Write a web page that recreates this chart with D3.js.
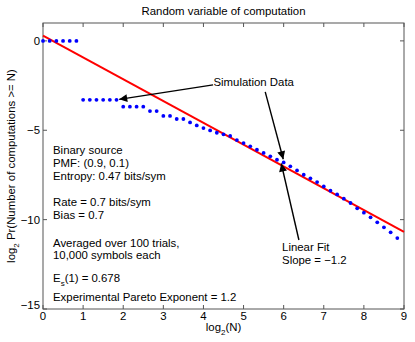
<!DOCTYPE html>
<html>
<head>
<meta charset="utf-8">
<script src="https://cdn.jsdelivr.net/npm/d3@7"></script>
<style>
  body { margin: 0; background: #fff; }
  text { font-family: "Liberation Sans", Arial, sans-serif; font-size: 11.4px; fill: #000; }
</style>
</head>
<body>
<svg id="chart"></svg>
<script>
// simulation data: x = log2(N) on a 1/6 grid, y = log2 Pr(computations >= N)
const simX = d3.range(54).map(k => k / 6);
const simY = [
  0, 0, 0, 0, 0, 0,
  -3.3, -3.3, -3.3, -3.3, -3.3, -3.3,
  -3.68, -3.68, -3.68, -3.68, -3.93, -3.93,
  -4.2, -4.2, -4.37, -4.37, -4.56, -4.73,
  -4.88, -5.01, -5.14, -5.23, -5.32, -5.55,
  -5.72, -5.9, -6.09, -6.27, -6.46, -6.65,
  -6.8, -7.02, -7.25, -7.49, -7.69, -7.9,
  -8.14, -8.38, -8.59, -8.83, -9.07, -9.37,
  -9.61, -9.87, -10.15, -10.43, -10.71, -11.03
];

// linear fit end points
const fitX = [0, 9];
const fitY = [0.3, -10.69];

const xTicks = [0, 1, 2, 3, 4, 5, 6, 7, 8, 9];
const yTicks = [0, -5, -10, -15];

const infoLines = [
  "Binary source",
  "PMF: (0.9, 0.1)",
  "Entropy: 0.47 bits/sym",
  "Rate = 0.7 bits/sym",
  "Bias = 0.7",
  "Averaged over 100 trials,",
  "10,000 symbols each",
  "E_s(1) = 0.678",
  "Experimental Pareto Exponent = 1.2"
];
// baselines of the info lines, in pixels
const infoBase = [154, 167, 180, 206, 219, 247, 259, 282, 301];

const width = 415;
const height = 342;
const margin = { top: 23, right: 11, bottom: 33, left: 43 };

const svg = d3.select("#chart").attr("width", width).attr("height", height);

const x = d3.scaleLinear().domain([0, 9]).range([margin.left, width - margin.right]);
const y = d3.scaleLinear().domain([-15, 1]).range([height - margin.bottom, margin.top]);

const axisColor = "#555";

// frame
svg.append("rect")
  .attr("x", x(0)).attr("y", y(1))
  .attr("width", x(9) - x(0)).attr("height", y(-15) - y(1))
  .attr("fill", "none").attr("stroke", axisColor).attr("stroke-width", 1);

// ticks (inward, on all four sides)
const tl = 4;
const g = svg.append("g").attr("stroke", axisColor).attr("stroke-width", 1);
xTicks.forEach(t => {
  g.append("line").attr("x1", x(t)).attr("x2", x(t)).attr("y1", y(-15)).attr("y2", y(-15) - tl);
  g.append("line").attr("x1", x(t)).attr("x2", x(t)).attr("y1", y(1)).attr("y2", y(1) + tl);
});
yTicks.forEach(t => {
  g.append("line").attr("x1", x(0)).attr("x2", x(0) + tl).attr("y1", y(t)).attr("y2", y(t));
  g.append("line").attr("x1", x(9)).attr("x2", x(9) - tl).attr("y1", y(t)).attr("y2", y(t));
});

// tick labels
svg.append("g").selectAll("text").data(xTicks).join("text")
  .attr("x", d => x(d)).attr("y", y(-15) + 11)
  .attr("text-anchor", "middle").attr("font-size", "10px").text(d => d);
svg.append("g").selectAll("text").data(yTicks).join("text")
  .attr("x", x(0) - 3).attr("y", d => y(d) + (d === -15 ? 0 : 4))
  .attr("text-anchor", "end").attr("font-size", "10px")
  .text(d => d < 0 ? "\u2212" + Math.abs(d) : d);

// fit line
svg.append("line")
  .attr("x1", x(fitX[0])).attr("y1", y(fitY[0]))
  .attr("x2", x(fitX[1])).attr("y2", y(fitY[1]))
  .attr("stroke", "#ff0000").attr("stroke-width", 2);

// simulation points
svg.append("g").selectAll("circle").data(simX).join("circle")
  .attr("cx", d => x(d)).attr("cy", (d, i) => y(simY[i]))
  .attr("r", 1.9).attr("fill", "#0000ff");

// arrows
svg.append("defs").append("marker")
  .attr("id", "head").attr("viewBox", "0 0 10 10")
  .attr("refX", 10).attr("refY", 5)
  .attr("markerWidth", 10).attr("markerHeight", 8)
  .attr("markerUnits", "userSpaceOnUse")
  .attr("orient", "auto")
  .append("path").attr("d", "M0,0 L10,5 L0,10 Z").attr("fill", "#000");

const arrows = [
  [[4.24, -2.46], [1.9, -3.27]],
  [[5.54, -2.85], [5.99, -6.62]],
  [[6.38, -11.14], [5.94, -6.86]]
];
svg.append("g").selectAll("line").data(arrows).join("line")
  .attr("x1", d => x(d[0][0])).attr("y1", d => y(d[0][1]))
  .attr("x2", d => x(d[1][0])).attr("y2", d => y(d[1][1]))
  .attr("stroke", "#000").attr("stroke-width", 1.4)
  .attr("marker-end", "url(#head)");

svg.append("text").attr("x", x(4.25)).attr("y", y(-2.29) + 4).text("Simulation Data");
svg.append("text").attr("x", x(5.96)).attr("y", y(-11.53) + 4).text("Linear Fit");
svg.append("text").attr("x", x(5.96)).attr("y", y(-12.25) + 4).text("Slope = \u22121.2");

// info block
const info = svg.append("g");
infoLines.forEach((s, i) => {
  const t = info.append("text").attr("x", x(0.25)).attr("y", infoBase[i]);
  if (s.startsWith("E_s")) {
    t.append("tspan").text("E");
    t.append("tspan").attr("dy", 4).attr("font-size", "8px").text("s");
    t.append("tspan").attr("dy", -4).text("(1) = 0.678");
  } else {
    t.text(s);
  }
});

// title and axis labels
svg.append("text").attr("x", (x(0) + x(9)) / 2).attr("y", 15)
  .attr("text-anchor", "middle").text("Random variable of computation");

const xl = svg.append("text").attr("x", (x(0) + x(9)) / 2).attr("y", 331)
  .attr("text-anchor", "middle");
xl.append("tspan").text("log");
xl.append("tspan").attr("dy", 4).attr("font-size", "8px").text("2");
xl.append("tspan").attr("dy", -4).text("(N)");

const yl = svg.append("text")
  .attr("transform", `translate(15,${(y(1) + y(-15)) / 2}) rotate(-90)`)
  .attr("text-anchor", "middle");
yl.append("tspan").text("log");
yl.append("tspan").attr("dy", 4).attr("font-size", "8px").text("2");
yl.append("tspan").attr("dy", -4).text(" Pr(Number of computations >= N)");
</script>
</body>
</html>
